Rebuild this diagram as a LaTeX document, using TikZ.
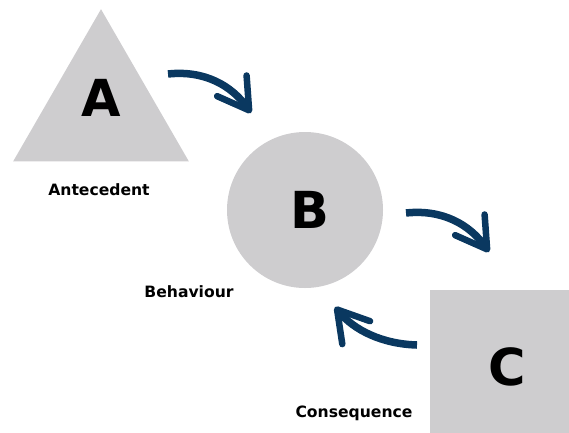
\documentclass[tikz,border=0pt]{standalone}
\usepackage{fontspec}
\setmainfont{DejaVu Sans}
\usetikzlibrary{shapes.geometric,arrows.meta}
\definecolor{shapegray}{RGB}{206,205,207}
\definecolor{navy}{RGB}{10,56,96}
\tikzset{
  x=1pt, y=-1pt,
  shapefill/.style={fill=shapegray, draw=none, inner sep=0pt},
  bigletter/.style={font=\bfseries\fontsize{51}{51}\selectfont, text=black},
  caption/.style={font=\bfseries\fontsize{15.6}{15.6}\selectfont, text=black},
  brush/.style={draw=navy, line width=7.5pt, line cap=butt,
    -{Straight Barb[length=30pt, width=36pt, line width=6.5pt, round]}},
}
\begin{document}
\begin{tikzpicture}
\useasboundingbox (0,0) rectangle (569,432);
% shapes
\node[shapefill, regular polygon, regular polygon sides=3, minimum size=203pt] (a) at (101,110.7) {};
\node[shapefill, circle, minimum size=156pt] (b) at (305,210) {};
\node[shapefill, rectangle, minimum width=140pt, minimum height=143pt, anchor=north west] (c) at (430,290) {};
% letters
\node[bigletter] (la) at (101,98) {A};
\node[bigletter] (lb) at (310,210) {B};
\node[bigletter] (lc) at (507,367) {C};
% captions
\node[caption] (ta) at (99,190) {Antecedent};
\node[caption] (tb) at (189,292) {Behaviour};
\node[caption] (tc) at (354,413) {Consequence};
% arrows
\coordinate (a1s) at (168,74);
\coordinate (a1e) at (251,113);
\coordinate (a2s) at (406,213);
\coordinate (a2e) at (489,252);
\coordinate (a3s) at (417,345);
\coordinate (a3e) at (335,307);
\draw[brush] (a1s) .. controls (205,70) and (232,86) .. (a1e);
\draw[brush] (a2s) .. controls (443,209) and (470,225) .. (a2e);
\draw[brush] (a3s) .. controls (382,344) and (354,330) .. (a3e);
\end{tikzpicture}
\end{document}
